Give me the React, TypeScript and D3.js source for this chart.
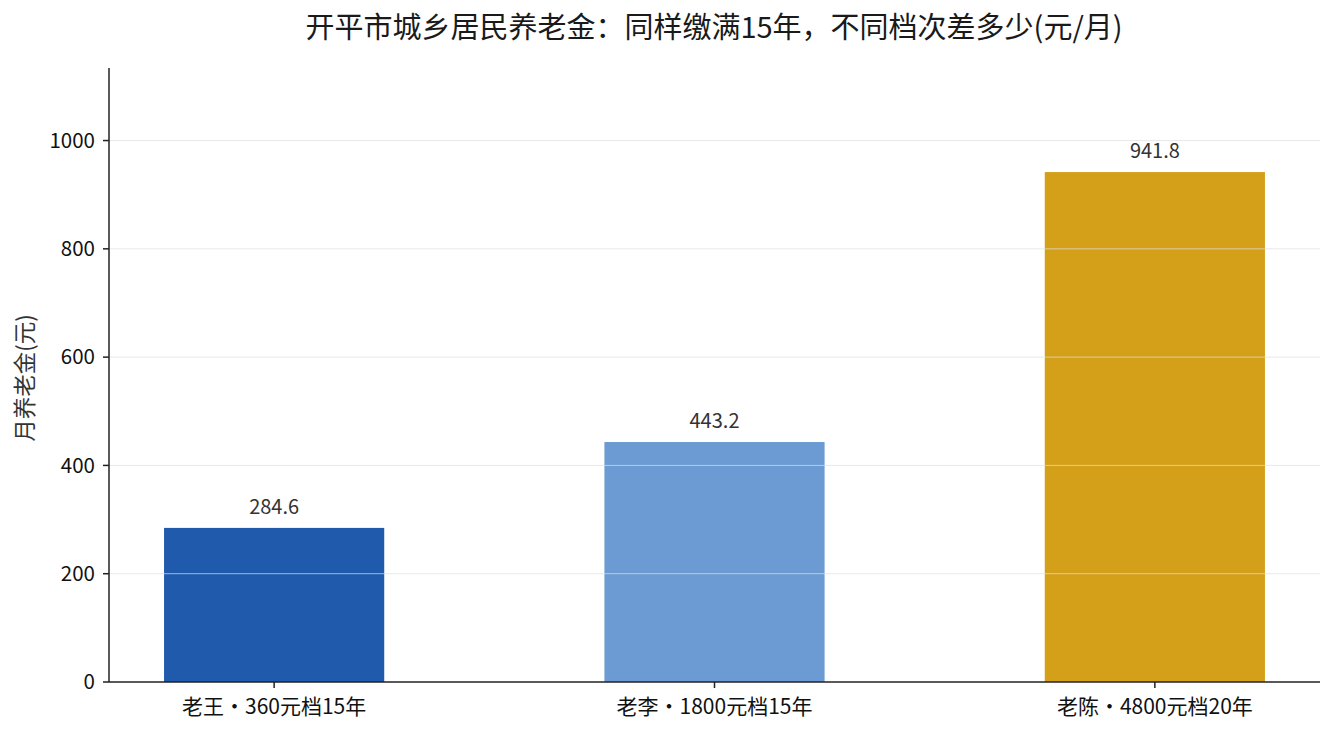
import React from "react";
import * as d3 from "d3";

const categories = ["老王・360元档15年", "老李・1800元档15年", "老陈・4800元档20年"];
const values = [284.6, 443.2, 941.8];
const colors = ["#1f5aad", "#6b9bd2", "#d4a01a"];
const yTicks = [0, 200, 400, 600, 800, 1000];
const yMax = 1134;
const title = "开平市城乡居民养老金：同样缴满15年，不同档次差多少(元/月)";
const yLabel = "月养老金(元)";

const W = 1335;
const H = 734;
const M = { left: 109, right: 1320, top: 68, bottom: 682 };
const FONT = "'Noto Sans CJK SC', 'Noto Sans', sans-serif";

export default function App() {
  const x = d3.scaleLinear().domain([-0.375, 2.375]).range([M.left, M.right]);
  const y = d3.scaleLinear().domain([0, yMax]).range([M.bottom, M.top]);
  const bw = x(0.5) - x(0);

  return (
    <svg width={W} height={H} style={{ position: "absolute", left: 0, top: 0, fontFamily: FONT }}>
      <rect width={W} height={H} fill="#fff" />
      {values.map((v, i) => (
        <rect key={i} x={x(i) - bw / 2} y={y(v)} width={bw} height={y(0) - y(v)} fill={colors[i]} />
      ))}
      {yTicks.slice(1).map((t) => (
        <line key={t} x1={M.left} x2={M.right} y1={y(t)} y2={y(t)} stroke="#e0e0e0" strokeOpacity={0.7} strokeWidth={1} />
      ))}
      {values.map((v, i) => (
        <text key={i} x={x(i)} y={y(v) - 14} textAnchor="middle" fontSize={20} fill="#333">
          {v.toFixed(1)}
        </text>
      ))}
      <line x1={M.left} x2={M.left} y1={M.top} y2={M.bottom} stroke="#222" strokeWidth={1.5} />
      <line x1={M.left} x2={M.right} y1={M.bottom} y2={M.bottom} stroke="#222" strokeWidth={1.5} />
      {yTicks.map((t) => (
        <g key={t}>
          <line x1={M.left - 6} x2={M.left} y1={y(t)} y2={y(t)} stroke="#222" strokeWidth={1.5} />
          <text x={M.left - 14} y={y(t)} dy="0.35em" textAnchor="end" fontSize={20.5} fill="#111">
            {t}
          </text>
        </g>
      ))}
      {categories.map((c, i) => (
        <g key={i}>
          <line x1={x(i)} x2={x(i)} y1={M.bottom} y2={M.bottom + 6} stroke="#222" strokeWidth={1.5} />
          <text x={x(i)} y={M.bottom + 32} textAnchor="middle" fontSize={21} fill="#111">
            {c}
          </text>
        </g>
      ))}
      <text transform={`translate(33,${(M.top + M.bottom) / 2 + 3}) rotate(-90)`} textAnchor="middle" fontSize={22.5} fill="#333">
        {yLabel}
      </text>
      <text x={(M.left + M.right) / 2 - 0.5} y={38} textAnchor="middle" fontSize={29} fill="#1a1a1a">
        {title}
      </text>
    </svg>
  );
}
